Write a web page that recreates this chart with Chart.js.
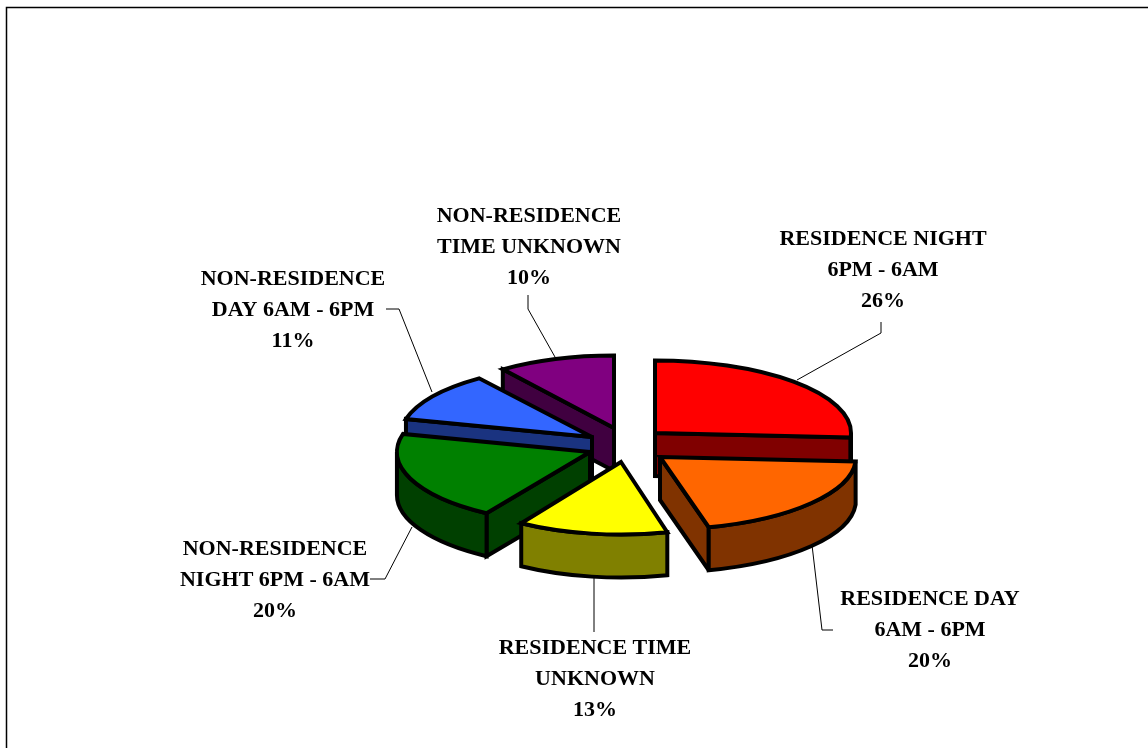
<!DOCTYPE html>
<html>
<head>
<meta charset="utf-8">
<style>html,body{margin:0;padding:0;background:#fff;overflow:hidden}canvas{display:block}</style>
<script src="https://cdn.jsdelivr.net/npm/chart.js@4"></script>
</head>
<body>
<canvas id="c" width="1148" height="748"></canvas>
<script>
const categories = ['RESIDENCE NIGHT 6PM - 6AM','RESIDENCE DAY 6AM - 6PM','RESIDENCE TIME UNKNOWN','NON-RESIDENCE NIGHT 6PM - 6AM','NON-RESIDENCE DAY 6AM - 6PM','NON-RESIDENCE TIME UNKNOWN'];
const values = [26,20,13,20,11,10];
const labelLines = [['RESIDENCE NIGHT','6PM - 6AM'],['RESIDENCE DAY','6AM - 6PM'],['RESIDENCE TIME','UNKNOWN'],['NON-RESIDENCE','NIGHT 6PM - 6AM'],['NON-RESIDENCE','DAY 6AM - 6PM'],['NON-RESIDENCE','TIME UNKNOWN']];
const topColors = ['#FF0000','#FF6600','#FFFF00','#008000','#3366FF','#800080'];
const wallColors = ['#800000','#803300','#808000','#004000','#1A3380','#400040'];

// presentation settings
const squash = 0.37, depth = 43, outlineWidth = 4;
const sliceShift = [[27,-9],[32,15],[-7,20],[-38,10],[-36,-5],[-14,-14]];
const sliceScale = [1,1,0.95,0.985,0.98,0.965];
const paintOrder = [5,0,4,3,1,2];
const labelCentres = [[883,239],[930,599],[595,648],[275,549],[293,279],[529,216]];
const leaders = [
  [[881,322],[881,333],[797,380]],
  [[812,545],[822,630],[833,630]],
  [[594,578],[594,632]],
  [[370,579],[385,579],[412,527]],
  [[386,309],[399,309],[432,392]],
  [[528,295],[528,309],[555,357]]
];

const pie3d = {
  id:'pie3d',
  beforeDraw(chart){
    const ctx = chart.ctx;
    ctx.save();
    ctx.fillStyle='#fff'; ctx.fillRect(0,0,chart.width,chart.height);
    ctx.strokeStyle='#000'; ctx.lineWidth=1.5;
    ctx.strokeRect(6.5,7.5,chart.width+20,chart.height+20);
    ctx.lineWidth=1; ctx.strokeStyle='#000';
    leaders.forEach(l=>{
      ctx.beginPath();
      l.forEach((p,i)=> i?ctx.lineTo(p[0],p[1]):ctx.moveTo(p[0],p[1]));
      ctx.stroke();
    });
    ctx.fillStyle='#000';
    ctx.font='bold 22px "Liberation Serif"';
    ctx.textAlign='center'; ctx.textBaseline='middle';
    labelLines.forEach((lines,i)=>{
      const all = lines.concat([values[i]+'%']);
      all.forEach((t,j)=>ctx.fillText(t,labelCentres[i][0],labelCentres[i][1]+j*31));
    });
    ctx.restore();
  },
  beforeDatasetDraw(chart,args){
    const ctx = chart.ctx, arcs = chart.getDatasetMeta(args.index).data;
    paintOrder.forEach(i=>{
      const a = arcs[i], k = sliceScale[i], r = a.outerRadius*k, ry = a.outerRadius*squash;
      const cx = a.x+sliceShift[i][0], cy = a.y+sliceShift[i][1];
      const s = a.startAngle, e = a.endAngle;
      const px = t=>cx+Math.cos(t)*r, py = t=>cy+Math.sin(t)*ry;
      ctx.save();
      ctx.lineJoin='miter'; ctx.miterLimit=3; ctx.lineWidth=outlineWidth; ctx.strokeStyle='#000';
      ctx.fillStyle=wallColors[i];
      const face = t=>{
        ctx.beginPath();
        ctx.moveTo(cx,cy); ctx.lineTo(px(t),py(t));
        ctx.lineTo(px(t),py(t)+depth); ctx.lineTo(cx,cy+depth); ctx.closePath();
        ctx.fill(); ctx.stroke();
      };
      if(-Math.cos(s)>=-1e-6) face(s);
      if(Math.cos(e)>=-1e-6) face(e);
      // outer wall, only the part that faces the viewer
      const norm = t=>((t%(2*Math.PI))+2*Math.PI)%(2*Math.PI);
      let w0 = norm(s), w1 = w0+(e-s);
      if(w0>Math.PI && w1>2*Math.PI){w0-=2*Math.PI;w1-=2*Math.PI;}
      w0=Math.max(w0,0); w1=Math.min(w1,Math.PI);
      if(w1>w0){
        ctx.beginPath();
        ctx.ellipse(cx,cy,r,ry,0,w0,w1,false);
        ctx.ellipse(cx,cy+depth,r,ry,0,w1,w0,true);
        ctx.closePath(); ctx.fill(); ctx.stroke();
      }
      // top surface: the library's own arc element, flattened
      ctx.save();
      ctx.translate(cx,cy); ctx.scale(k,squash); ctx.translate(-a.x,-a.y);
      a.draw(ctx);
      ctx.restore();
      ctx.beginPath();
      ctx.moveTo(cx,cy);
      ctx.ellipse(cx,cy,r,ry,0,s,e,false);
      ctx.closePath(); ctx.stroke();
      ctx.restore();
    });
    return false;
  }
};

new Chart(document.getElementById('c'),{
  type:'pie',
  data:{labels:categories,datasets:[{data:values,backgroundColor:topColors,borderWidth:0}]},
  options:{
    responsive:false,animation:false,
    layout:{padding:{left:432,right:324,top:246,bottom:110}},
    plugins:{legend:{display:false},tooltip:{enabled:false}}
  },
  plugins:[pie3d]
});
</script>
</body>
</html>
